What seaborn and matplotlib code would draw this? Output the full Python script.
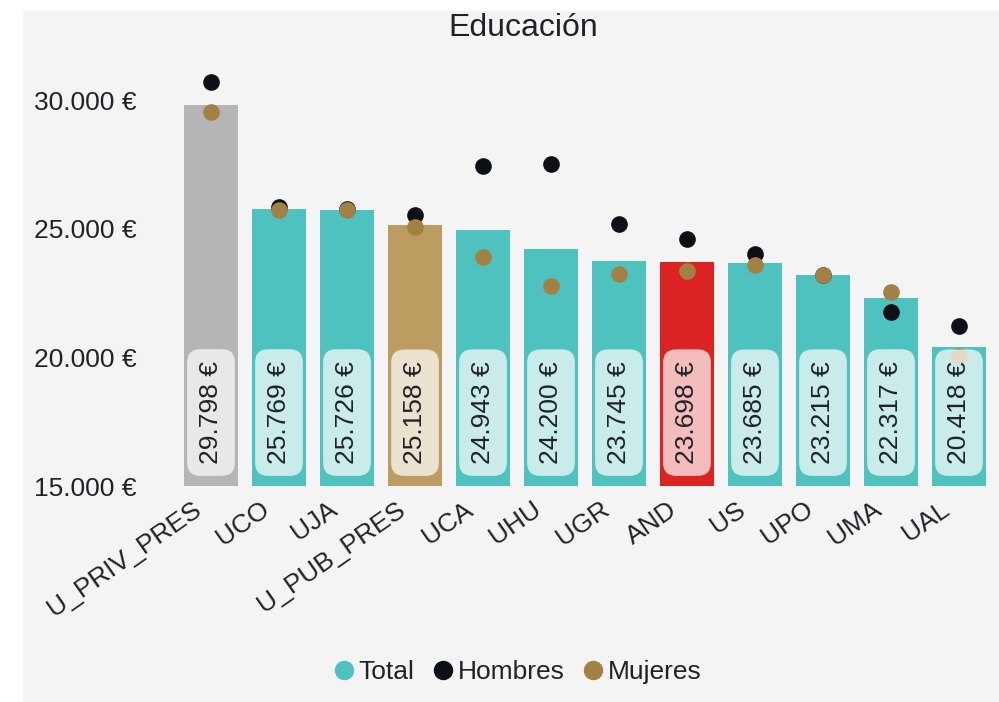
import numpy as np
import pandas as pd
import matplotlib
matplotlib.use("Agg")
import matplotlib.pyplot as plt
import matplotlib.transforms as mtransforms
from matplotlib.patches import Rectangle
from matplotlib.lines import Line2D
from matplotlib.ticker import FuncFormatter
import seaborn as sns

categories = ["U_PRIV_PRES", "UCO", "UJA", "U_PUB_PRES", "UCA", "UHU", "UGR",
              "AND", "US", "UPO", "UMA", "UAL"]
total = [29798, 25769, 25726, 25158, 24943, 24200, 23745, 23698, 23685, 23215, 22317, 20418]
hombres = [30700, 25850, 25780, 25530, 27440, 27510, 25170, 24590, 24000, 23200, 21780, 21220]
mujeres = [29540, 25740, 25715, 25055, 23890, 22790, 23235, 23350, 23590, 23195, 22550, 20050]
bar_colors = ["#b5b5b5", "#4ec2bf", "#4ec2bf", "#bd9c62", "#4ec2bf", "#4ec2bf", "#4ec2bf",
              "#db2324", "#4ec2bf", "#4ec2bf", "#4ec2bf", "#4ec2bf"]
y_ticks = [15000, 20000, 25000, 30000]
title = "Educación"
legend_labels = ["Total", "Hombres", "Mujeres"]
legend_colors = ["#4ec2bf", "#0d1117", "#a38144"]

df = pd.DataFrame({"cat": categories, "total": total, "hombres": hombres, "mujeres": mujeres})

sns.set_theme(style="white")
plt.rcParams["font.family"] = ["Liberation Sans", "DejaVu Sans"]
FS = 19
TXT = "#1f2328"

fig = plt.figure(figsize=(9.99, 7.02), dpi=100, facecolor="white")
fig.patches.append(Rectangle((23 / 999, 0), 1 - 23 / 999, 1 - 11 / 702,
                             transform=fig.transFigure, facecolor="#f4f4f4",
                             edgecolor="none", zorder=-10))
ax = fig.add_axes([177 / 999, 1 - 486 / 702, (993 - 177) / 999, (486 - 48.6) / 702])
ax.set_zorder(2)
ax.patch.set_alpha(0)

sns.barplot(data=df, x="cat", y="total", hue="cat", palette=bar_colors, legend=False,
            width=0.79, ax=ax, saturation=1, zorder=1, linewidth=0)
sns.stripplot(data=df, x="cat", y="hombres", color=legend_colors[1], jitter=False,
              size=12, ax=ax, zorder=3, linewidth=0)
sns.stripplot(data=df, x="cat", y="mujeres", color=legend_colors[2], jitter=False,
              size=12, ax=ax, zorder=4, linewidth=0)

for i, v in enumerate(total):
    s = f"{v:,}".replace(",", ".") + " €"
    ax.annotate(s, xy=(i, 15000), xytext=(0, 22), textcoords="offset pixels",
                ha="center", va="bottom", rotation=90, fontsize=FS, color=TXT,
                zorder=6,
                bbox=dict(boxstyle="round,pad=0.45,rounding_size=0.5",
                          facecolor="white", alpha=0.7, edgecolor="none"),
                annotation_clip=False)

ax.set_ylim(15000, 32000)
ax.set_xlim(-0.5, len(categories) - 0.5)
ax.set_yticks(y_ticks)
ax.yaxis.set_major_formatter(FuncFormatter(lambda v, p: f"{int(v):,}".replace(",", ".") + " €"))
ax.tick_params(axis="y", length=0, pad=29, labelsize=FS, labelcolor=TXT)
ax.tick_params(axis="x", length=0, pad=8, labelsize=FS, labelcolor=TXT)
shift = mtransforms.ScaledTranslation(-0.19, 0, fig.dpi_scale_trans)
for lab in ax.get_xticklabels():
    lab.set_rotation(35)
    lab.set_ha("right")
    lab.set_va("top")
    lab.set_rotation_mode("anchor")
    lab.set_transform(lab.get_transform() + shift)
ax.set_xlabel("")
ax.set_ylabel("")
for sp in ax.spines.values():
    sp.set_visible(False)
ax.grid(False)

fig.text(523 / 999, 1 - 28 / 702, title, ha="center", va="center", fontsize=23, color=TXT)

handles = [Line2D([], [], marker="o", linestyle="none", markersize=14,
                  markerfacecolor=c, markeredgecolor="none") for c in legend_colors]
fig.legend(handles, legend_labels, loc="center", bbox_to_anchor=(516 / 999, 1 - 672 / 702),
           ncol=3, frameon=False, fontsize=FS, handletextpad=0.05, columnspacing=0.6,
           handlelength=1.0, labelcolor=TXT)

fig.savefig("out.png", dpi=100, facecolor="white")
